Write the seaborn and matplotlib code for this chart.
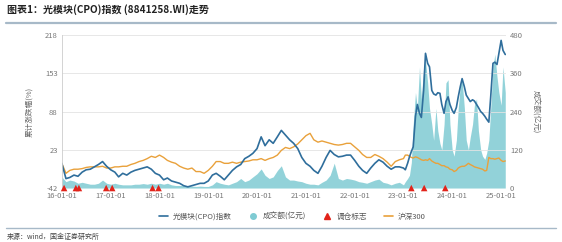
import numpy as np
import pandas as pd
import matplotlib
matplotlib.use("Agg")
import matplotlib.pyplot as plt
import seaborn as sns
from matplotlib.lines import Line2D

sns.set_theme(style="white")
plt.rcParams['font.family'] = ['Noto Sans CJK SC', 'DejaVu Sans']
plt.rcParams['axes.unicode_minus'] = False

# ---------------- data ----------------
# monthly 2016-01 .. 2022-12, then semi-monthly 2023-01 .. 2025-02
cpo_monthly = [
    0, -26, -24, -20, -22, -15, -11, -10, -6, -2, 3, -5,
    -11, -15, -23, -17, -20, -15, -12, -10, -8, -6, -10, -17,
    -20, -28, -25, -30, -32, -34, -38, -40, -38, -36, -34, -34,
    -30, -20, -17, -22, -28, -20, -12, -6, -2, 8, 12, 17,
    25, 45, 30, 40, 34, 45, 56, 48, 40, 34, 25, 10,
    0, -5, -12, -17, -5, 10, 22, 15, 11, 12, 14, 14,
    5, -5, -12, -17, -8, 0, 6, 2, -5, -10, -6, -6,
]
cpo_semi = [
    -8, -11, 0, 11, 20, 28, 80, 100, 85, 78, 124, 187,
    170, 164, 124, 118, 116, 120, 119, 100, 85, 105, 113, 100,
    90, 85, 95, 113, 130, 144, 130, 116, 110, 105, 108, 106,
    100, 95, 88, 85, 80, 75, 70, 113, 170, 172, 168, 187,
    209, 192, 185,
]
hs300_monthly = [
    0, -17, -12, -10, -10, -9, -7, -6, -6, -6, -5, -8,
    -8, -6, -6, -5, -5, -2, 0, 3, 5, 8, 12, 10,
    14, 10, 5, 2, 0, -5, -8, -10, -8, -14, -14, -17,
    -12, -5, 3, 3, 0, 0, 2, 0, 2, 3, 4, 6,
    6, 8, 5, 8, 10, 14, 22, 27, 25, 28, 33, 40,
    47, 51, 40, 36, 38, 36, 34, 32, 31, 32, 34, 34,
    28, 22, 15, 10, 10, 15, 12, 8, 2, -5, 3, 6,
]
hs300_semi = [
    8, 14, 14, 12, 10, 9, 11, 10, 8, 6, 5, 6,
    5, 8, 4, 2, 0, 0, -2, -4, -4, -6, -7, -10,
    -11, -14, -12, -8, -6, -5, -5, -3, 0, -2, -4, -6,
    -7, -8, -9, -10, -13, -12, 10, 8, 8, 7, 8, 9,
    5, 3, 4,
]
vol_monthly = [
    35, 20, 25, 22, 15, 18, 15, 12, 12, 15, 25, 15,
    12, 15, 12, 10, 10, 10, 12, 12, 14, 12, 15, 12,
    15, 12, 15, 10, 8, 8, 8, 6, 6, 5, 6, 5,
    5, 10, 20, 15, 12, 10, 15, 20, 30, 20, 25, 35,
    45, 60, 40, 30, 35, 55, 70, 35, 25, 25, 22, 20,
    15, 12, 12, 10, 18, 25, 40, 78, 30, 25, 30, 28,
    25, 20, 18, 15, 20, 25, 28, 18, 15, 10, 15, 18,
]
vol_semi = [
    10, 20, 30, 40, 80, 200, 300, 250, 380, 280, 380, 400,
    330, 250, 200, 150, 250, 180, 140, 120, 200, 330, 340, 200,
    120, 100, 150, 250, 320, 340, 250, 150, 120, 160, 200, 260,
    280, 180, 120, 100, 90, 110, 150, 250, 380, 420, 350, 300,
    260, 380, 300,
]
rebalance_dates = ["2016-01-18", "2016-04-15", "2016-05-08", "2016-11-28",
                   "2017-01-12", "2017-11-10", "2017-12-25",
                   "2023-03-01", "2023-06-05", "2023-11-10"]

left_ticks = [-42, 23, 88, 153, 218]
right_ticks = [0, 120, 240, 360, 480]
x_tick_labels = ["16-01-01", "17-01-01", "18-01-01", "19-01-01", "20-01-01",
                 "21-01-01", "22-01-01", "23-01-01", "24-01-01", "25-01-01"]

dates = list(pd.date_range("2016-01-01", "2022-12-01", freq="MS")) + \
        list(pd.date_range("2023-01-01", "2025-02-01", freq="SMS"))[:len(cpo_semi)]
df = pd.DataFrame({
    "date": dates,
    "cpo": cpo_monthly + cpo_semi,
    "hs300": hs300_monthly + hs300_semi,
    "vol": vol_monthly + vol_semi,
})
reb = pd.DataFrame({"date": pd.to_datetime(rebalance_dates),
                    "y": [left_ticks[0]] * len(rebalance_dates)})

# ---------------- colours ----------------
c_blue = "#2f6e9c"
c_orange = "#e9a13b"
c_teal = "#7fcbd3"
c_red = "#e2231a"
c_tick = "#777777"

fig = plt.figure(figsize=(5.62, 2.42), dpi=100)
ax = fig.add_axes([0.110, 0.223, 0.790, 0.632])
ax2 = ax.twinx()

# volume area on right axis
ax2.fill_between(df["date"], 0, df["vol"], color=c_teal, alpha=0.85, lw=0)
ax2.set_ylim(0, 480)
ax2.set_yticks(right_ticks)

ax.set_zorder(ax2.get_zorder() + 1)
ax.patch.set_visible(False)

sns.lineplot(data=df, x="date", y="hs300", ax=ax, color=c_orange, lw=1.0, legend=False)
sns.lineplot(data=df, x="date", y="cpo", ax=ax, color=c_blue, lw=1.2, legend=False)
sns.scatterplot(data=reb, x="date", y="y", ax=ax, marker="^", color=c_red,
                s=22, edgecolor="none", clip_on=False, zorder=5, legend=False)

ax.set_ylim(-42, 218)
ax.set_yticks(left_ticks)
ax.set_xlim(pd.Timestamp("2016-01-01"), pd.Timestamp("2025-02-05"))
ax.set_xticks(pd.to_datetime([f"20{l[:2]}-01-01" for l in x_tick_labels]))
ax.set_xticklabels(x_tick_labels)
ax.set_xlabel("")
ax.set_ylabel("累计涨跌幅(%)", fontsize=5.5, color="#666666", labelpad=8)
ax2.set_ylabel("成交额(亿元)", fontsize=5.5, color="#666666", rotation=270, labelpad=12)

ax.grid(axis="y", color="#e3e3e3", lw=0.6)
ax.set_axisbelow(True)
for a in (ax, ax2):
    a.tick_params(labelsize=5.5, colors=c_tick, length=0, pad=3)
    for s in ("top", "right", "left", "bottom"):
        a.spines[s].set_visible(False)
ax.spines["left"].set_visible(True)
ax.spines["left"].set_color("#cccccc")
ax.spines["left"].set_linewidth(0.6)

# legend
handles = [
    Line2D([], [], color=c_blue, lw=1.2),
    Line2D([], [], marker="o", color=c_teal, lw=0, markersize=4),
    Line2D([], [], marker="^", color=c_red, lw=0, markersize=4),
    Line2D([], [], color=c_orange, lw=1.2),
]
labels = ["光模块(CPO)指数", "成交额(亿元)", "调仓标志", "沪深300"]
fig.legend(handles, labels, loc="center", bbox_to_anchor=(0.52, 0.105), ncol=4,
           frameon=False, fontsize=5.5, handlelength=1.2, columnspacing=2.2,
           handletextpad=0.6, labelcolor="#555555")

# title, separators, source
fig.text(0.012, 0.962, "图表1：光模块(CPO)指数 (8841258.WI)走势", fontsize=7.2,
         fontweight="bold", style="italic", color="#222222", va="center")
fig.add_artist(Line2D([0.01, 0.99], [0.907, 0.907], color="#a7b9c8", lw=1.6,
                      transform=fig.transFigure))
fig.add_artist(Line2D([0.01, 0.99], [0.058, 0.058], color="#a7b9c8", lw=1.0,
                      transform=fig.transFigure))
fig.text(0.012, 0.022, "来源：wind，国金证券研究所", fontsize=5, color="#444444",
         va="center")

fig.savefig("out.png", dpi=100)
